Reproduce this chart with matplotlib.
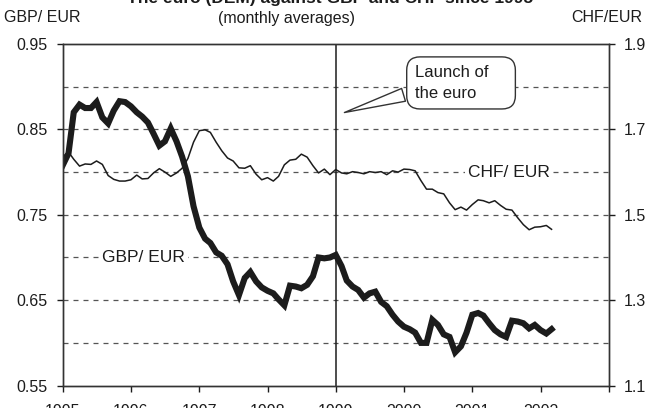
import matplotlib.pyplot as plt
import matplotlib.dates as mdates
import pandas as pd

plt.rcParams['font.family'] = ['Liberation Sans', 'DejaVu Sans']

# monthly averages, Jan 1995 - Mar 2002
gbp_eur = [
    0.808, 0.822, 0.870, 0.879, 0.875, 0.875, 0.882, 0.864, 0.857, 0.872, 0.883, 0.882,
    0.877, 0.870, 0.865, 0.858, 0.845, 0.831, 0.836, 0.851, 0.836, 0.818, 0.795, 0.760,
    0.735, 0.722, 0.717, 0.706, 0.702, 0.692, 0.672, 0.656, 0.676, 0.683, 0.672, 0.665,
    0.661, 0.658, 0.651, 0.644, 0.667, 0.666, 0.664, 0.668, 0.678, 0.700, 0.699, 0.700,
    0.703, 0.690, 0.673, 0.666, 0.662, 0.653, 0.658, 0.660, 0.648, 0.643, 0.633, 0.625,
    0.619, 0.616, 0.612, 0.600, 0.600, 0.627, 0.621, 0.610, 0.607, 0.589, 0.596, 0.612,
    0.633, 0.635, 0.632, 0.623, 0.615, 0.610, 0.607, 0.626, 0.625, 0.623, 0.617, 0.621,
    0.615, 0.611, 0.616,
]
chf_eur = [
    1.636, 1.647, 1.630, 1.614, 1.619, 1.618, 1.626, 1.618, 1.592, 1.583, 1.579, 1.579,
    1.582, 1.593, 1.584, 1.585, 1.598, 1.608, 1.600, 1.590, 1.598, 1.609, 1.632, 1.670,
    1.697, 1.699, 1.693, 1.670, 1.650, 1.633, 1.626, 1.610, 1.609, 1.615, 1.595, 1.582,
    1.587, 1.579, 1.590, 1.617, 1.628, 1.630, 1.642, 1.635, 1.615, 1.598, 1.607, 1.594,
    1.606, 1.598, 1.596, 1.601, 1.599, 1.596, 1.601, 1.599, 1.601, 1.594, 1.603, 1.600,
    1.607, 1.606, 1.603, 1.580, 1.560, 1.560, 1.552, 1.549, 1.528, 1.512, 1.518, 1.511,
    1.524, 1.535, 1.533, 1.528, 1.533, 1.522, 1.513, 1.511, 1.493, 1.477, 1.465, 1.471,
    1.472, 1.475, 1.466,
]
dates = pd.date_range('1995-01-01', periods=len(gbp_eur), freq='MS')

year_ticks = pd.date_range('1995-01-01', '2003-01-01', freq='YS')
year_labels = ['1995', '1996', '1997', '1998', '1999', '2000', '2001', '2002', '']
left_ticks = [0.55, 0.65, 0.75, 0.85, 0.95]
left_labels = ['0.55', '0.65', '0.75', '0.85', '0.95']
right_ticks = [1.1, 1.3, 1.5, 1.7, 1.9]
right_labels = ['1.1', '1.3', '1.5', '1.7', '1.9']
grid_levels = [0.60, 0.65, 0.70, 0.75, 0.80, 0.85, 0.90]
euro_launch = pd.Timestamp('1999-01-01')

line_col = '#1c1c1c'

fig = plt.figure(figsize=(6.48, 4.08), dpi=100)
fig.set_facecolor('white')
ax = fig.add_axes([0.0968, 0.0549, 0.8426, 0.8373])
ax2 = ax.twinx()

# dashed grid + launch line
for g in grid_levels:
    ax.axhline(g, color='#555555', linestyle=(0, (4, 4)), linewidth=0.9, zorder=1)
ax.axvline(euro_launch, color=line_col, linewidth=1.1, zorder=1)

ax.plot(dates, gbp_eur, color=line_col, linewidth=4.4, solid_joinstyle='miter', zorder=2)
ax2.plot(dates, chf_eur, color=line_col, linewidth=1.1, zorder=2)

ax.set_xlim(year_ticks[0], year_ticks[-1])
ax.set_ylim(0.55, 0.95)
ax2.set_ylim(1.1, 1.9)

ax.set_xticks(year_ticks)
ax.set_xticklabels(year_labels)
ax.set_yticks(left_ticks)
ax.set_yticklabels(left_labels)
ax2.set_yticks(right_ticks)
ax2.set_yticklabels(right_labels)

ax.tick_params(axis='x', direction='out', length=4, width=1, pad=9, labelsize=11.5, colors=line_col)
ax.tick_params(axis='y', direction='out', length=4, width=1, pad=7, labelsize=11.5, colors=line_col)
ax2.tick_params(axis='y', direction='out', length=4, width=1, pad=6.5, labelsize=11.5, colors=line_col)

for a in (ax, ax2):
    for s in a.spines.values():
        s.set_color('#333333')
        s.set_linewidth(1.0)

# series labels
ax.text(pd.Timestamp('1996-03-10'), 0.70, 'GBP/ EUR', fontsize=12.5, ha='center', va='center',
        color=line_col, bbox=dict(facecolor='white', edgecolor='none', pad=2), zorder=3)
ax2.text(pd.Timestamp('2001-07-15'), 1.60, 'CHF/ EUR', fontsize=12.5, ha='center', va='center',
         color=line_col, bbox=dict(facecolor='white', edgecolor='none', pad=2), zorder=3)

# callout (trailing spaces leave the extra room on the right like the original box)
ax2.annotate('Launch of    \nthe euro', xy=(0.511, 0.797), xycoords='axes fraction',
             xytext=(0.7295, 0.886), textcoords='axes fraction',
             fontsize=12, ha='center', va='center', multialignment='left', linespacing=1.45,
             color=line_col, zorder=4,
             bbox=dict(boxstyle='round,pad=0.5,rounding_size=0.8', fc='white', ec='#333333', lw=1),
             arrowprops=dict(arrowstyle='wedge,tail_width=0.8', fc='white', ec='#333333', lw=1,
                             relpos=(0.05, 0.3)))

# headings (title is clipped at the top edge like the original)
fig.text(330 / 648, 0.992, 'The euro (DEM) against GBP and CHF since 1995', fontsize=12.5,
         fontweight='bold', ha='center', va='baseline', color=line_col)
fig.text(4 / 648, 1 - 17 / 408, 'GBP/ EUR', fontsize=11.5, ha='left', va='center', color=line_col)
fig.text(286 / 648, 1 - 19 / 408, '(monthly averages)', fontsize=11.5, ha='center', va='center', color=line_col)
fig.text(607 / 648, 1 - 17 / 408, 'CHF/EUR', fontsize=11.5, ha='center', va='center', color=line_col)

fig.savefig('out.png', dpi=100)
